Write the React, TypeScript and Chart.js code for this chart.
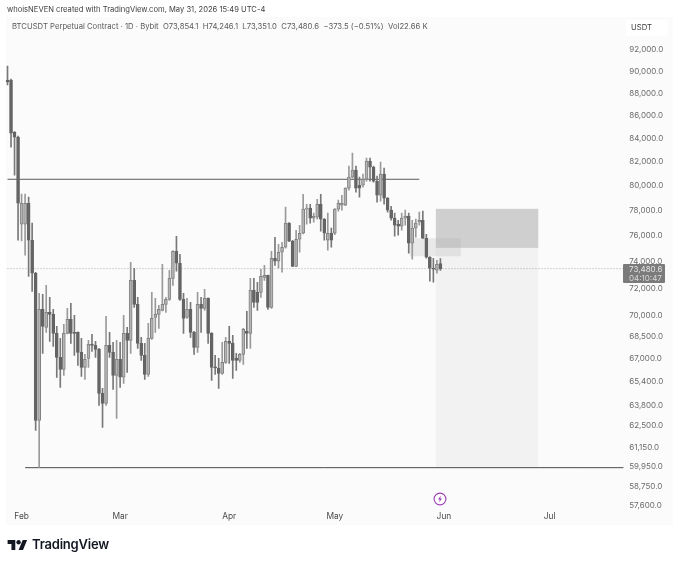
import React, { useEffect, useRef } from "react";
import { Chart, registerables } from "chart.js";

Chart.register(...registerables);

const FONT = 'Inter, "Noto Sans", sans-serif';

const opens = [
  89200,89200,84550,84120,76910,76910,78590,75656,73130,62860,
  70470,69175,70250,70105,68750,67070,66250,68750,69745,68820,
  68820,67416,66384,67000,67975,67905,67625,64630,63970,67905,
  67416,65840,66933,65720,68750,68255,72600,70830,68045,67210,
  65910,68395,69890,70105,70396,70830,71197,72750,74800,73885,
  71197,69890,70470,68820,67765,70830,70540,71270,68750,66384,
  66320,65975,66727,68185,68045,67000,66865,67280,68890,68750,
  71860,71710,71710,72825,72975,70615,74265,74040,74730,75110,
  77000,75580,73650,75735,76200,78110,78190,77390,77470,78510,
  77310,75656,76200,76200,78110,78430,78430,79815,80725,81310,
  80060,80060,80560,82065,81560,80390,79240,80975,79000,78030,
  77390,76915,76755,77390,77550,75425,76600,77070,77230,75810,
  74345,73505,73355,73854.1,
];
const highs = [
  90500,89300,84600,84200,79324,79324,79080,76993,73200,71638,
  71565,72230,71345,70470,69245,68395,69390,70540,70905,70035,
  68850,68395,67280,68255,68680,68185,67700,64965,69960,68820,
  68115,68255,68115,70035,69175,73960,73505,71345,68465,68045,
  69460,71710,71270,70760,73810,71345,73355,74850,75965,74575,
  71640,71270,70975,68900,71710,71345,71935,71300,68800,67210,
  67000,68115,68465,69245,68605,67350,67350,69100,70325,72750,
  72750,72455,73430,73730,73000,74805,75890,75345,75500,78270,
  77050,75650,76440,76830,79320,78510,78510,77790,78915,79320,
  77350,77790,76600,78150,78836,79240,79850,81640,82745,81640,
  80725,80975,82320,82320,81640,80810,81980,81475,79050,78350,
  77790,77230,77790,78030,77790,77230,77310,77870,77950,76125,
  74400,74265,74115,74246.1,
];
const lows = [
  88750,83257,80890,75660,75600,74496,72900,71786,62215,59900,
  67349,68820,68185,67835,65700,65030,65840,68700,68045,67210,
  66520,65770,65570,66384,67486,67070,63835,62410,63835,67070,
  64895,62990,65030,65300,66040,67350,70615,67695,66865,65570,
  65770,68325,68820,69105,70360,70250,71124,72230,73280,71124,
  68750,69820,68465,67280,67416,68820,70396,68045,65500,65910,
  64965,65910,66660,66660,65635,66180,66727,66590,67695,67695,
  70615,70396,71345,72600,70470,70540,73730,73505,73205,75035,
  75550,73620,73620,74730,76150,76910,77000,77070,77310,76360,
  75656,74880,75110,76100,77950,78030,78400,79650,80640,79490,
  79080,79895,80390,80390,80310,78670,78755,78510,77870,77230,
  75970,76050,76440,76835,74650,74190,75890,76835,75780,74265,
  72530,72455,73130,73351.0,
];
const closes = [
  89020,84466,84120,78590,78590,78590,75656,73130,62860,70470,
  69245,70250,70105,68750,67070,66250,68750,69745,68750,68750,
  67416,66384,66933,67975,67905,67625,64630,63970,67905,67416,
  65840,66933,65720,68750,68255,72600,70830,68045,67210,65910,
  68395,69820,70105,70470,70830,71197,72750,74800,73885,71197,
  69820,70470,68820,67765,70830,70540,71270,68750,66384,66350,
  65975,66727,68185,68045,66865,66865,67280,69030,68750,71860,
  70975,70975,72900,72975,70615,74265,74040,74730,75110,77000,
  75580,73650,75735,76200,78110,78190,77390,77550,78510,77310,
  76200,76200,75656,78110,78590,78590,79815,80725,81310,79815,
  79815,80560,82065,81560,80390,79240,80975,79000,78030,77390,
  76835,76755,77390,77550,75425,76600,77000,77230,75810,74345,
  73505,73430,73810,73480.6,
];

const priceTicks = [
  92000, 90000, 88000, 86000, 84000, 82000, 80000, 78000, 76000, 74000, 72000,
  70000, 68500, 67000, 65400, 63800, 62500, 61150, 59950, 58750, 57600,
];
const monthLabels: Record<string, string> = {
  "2026-02-01": "Feb",
  "2026-03-01": "Mar",
  "2026-04-01": "Apr",
  "2026-05-01": "May",
  "2026-06-01": "Jun",
  "2026-07-01": "Jul",
};

const FIRST_DAY = Date.UTC(2026, 0, 28);
const DAY_COUNT = 176;
const days = Array.from({ length: DAY_COUNT }, (_, i) =>
  new Date(FIRST_DAY + i * 86400000).toISOString().slice(0, 10)
);

const resistanceLevel = 80550;
const supportLevel = 59880;
const lastPrice = 73480.6;

// position tool: [first day, last day, upper price, lower price, colour]
const zones: [number, number, number, number, string][] = [
  [121.7, 150.8, 78140, 75060, "#cfcfcf"],
  [121.7, 150.8, 75060, 59880, "#f2f2f2"],
  [114.3, 128.8, 75810, 74420, "rgba(170,170,170,0.24)"],
];

const zonesPlugin = {
  id: "zones",
  beforeDatasetsDraw(chart: any) {
    const { ctx, scales } = chart;
    ctx.save();
    for (const [a, b, top, bottom, colour] of zones) {
      const x0 = scales.x.getPixelForValue(a);
      const x1 = scales.x.getPixelForValue(b);
      const y0 = scales.y.getPixelForValue(top);
      const y1 = scales.y.getPixelForValue(bottom);
      ctx.fillStyle = colour;
      ctx.fillRect(x0, y0, x1 - x0, y1 - y0);
    }
    ctx.restore();
  },
};

const UP_FILL = "#b4b4b4";
const UP_EDGE = "#828282";
const DOWN_FILL = "#646464";
const isUp = closes.map((c, i) => c >= opens[i]);

const priceText = (v: number) =>
  Number(v).toLocaleString("en-US", { minimumFractionDigits: 1, maximumFractionDigits: 1 });

const textStyle = (left: number, top: number, size: number, color: string): React.CSSProperties => ({
  position: "absolute",
  left,
  top,
  fontFamily: FONT,
  fontSize: size,
  lineHeight: "12px",
  color,
  whiteSpace: "pre",
});

export default function App() {
  const ref = useRef<HTMLCanvasElement>(null);

  useEffect(() => {
    const chart = new Chart(ref.current!, {
      type: "bar",
      data: {
        labels: days,
        datasets: [
          {
            label: "Body",
            data: opens.map((o, i) => [o, closes[i]]),
            backgroundColor: isUp.map((u) => (u ? UP_FILL : DOWN_FILL)),
            borderColor: isUp.map((u) => (u ? UP_EDGE : DOWN_FILL)),
            borderWidth: 1,
            borderSkipped: false,
            barThickness: 3,
            minBarLength: 1,
            grouped: false,
            order: 0,
          },
          {
            label: "Wick",
            data: lows.map((l, i) => [l, highs[i]]),
            backgroundColor: isUp.map((u) => (u ? "#9a9a9a" : "#787878")),
            barThickness: 1,
            grouped: false,
            order: 1,
          },
          {
            type: "line",
            label: "Resistance",
            data: [
              { x: days[0], y: resistanceLevel },
              { x: days[117], y: resistanceLevel },
            ],
            borderColor: "#5a5a5a",
            borderWidth: 1,
            pointRadius: 0,
            order: 2,
          },
          {
            type: "line",
            label: "Support",
            data: [
              { x: days[5], y: supportLevel },
              { x: days[DAY_COUNT - 1], y: supportLevel },
            ],
            borderColor: "#4a4a4a",
            borderWidth: 1,
            pointRadius: 0,
            order: 2,
          },
          {
            type: "line",
            label: "Last price",
            data: [
              { x: days[0], y: lastPrice },
              { x: days[DAY_COUNT - 1], y: lastPrice },
            ],
            borderColor: "#a8a8a8",
            borderWidth: 1,
            borderDash: [1, 2],
            pointRadius: 0,
            order: 3,
          },
        ] as any,
      },
      options: {
        responsive: false,
        animation: false,
        devicePixelRatio: 1,
        layout: { padding: { left: 5.74, top: 37, right: 4.8, bottom: 33 } },
        plugins: { legend: { display: false }, title: { display: false }, tooltip: { enabled: false } },
        scales: {
          x: {
            type: "category",
            offset: true,
            grid: { display: false, drawTicks: false },
            border: { display: false },
            afterFit: (s: any) => { s.height = 20; },
            ticks: {
              autoSkip: false,
              maxRotation: 0,
              minRotation: 0,
              padding: 1.5,
              color: "#4a4a4a",
              font: { family: FONT, size: 8.4 },
              callback(_v: any, i: number) {
                return monthLabels[days[i]] ?? null;
              },
            },
          },
          y: {
            type: "logarithmic",
            position: "right",
            min: 57330,
            max: 93239,
            grid: { display: false, drawTicks: false },
            border: { display: false },
            afterFit: (s: any) => { s.width = 50; },
            afterBuildTicks: (s: any) => { s.ticks = priceTicks.map((value) => ({ value })); },
            ticks: {
              autoSkip: false,
              padding: 4,
              color: "#6a6a6a",
              font: { family: FONT, size: 8 },
              callback: (v: any) => priceText(v),
            },
            afterTickToLabelConversion: (s: any) => {
              s.ticks.forEach((t: any) => { t.label = priceText(t.value); });
            },
          },
        },
      } as any,
      plugins: [zonesPlugin],
    });
    return () => chart.destroy();
  }, []);

  return (
    <div style={{ position: "absolute", left: 0, top: 0, width: 680, height: 563, background: "#fff", overflow: "hidden", filter: "blur(0.5px)" }}>
      <div style={{ position: "absolute", left: 6, top: 17, width: 667, height: 508, background: "#fbfbfb" }} />
      <div style={{ position: "absolute", left: 626, top: 20, width: 42, height: 16, background: "#ffffff", borderRadius: 3 }} />
      <canvas ref={ref} width={680} height={563} style={{ position: "absolute", left: 0, top: 0 }} />

      <div style={textStyle(7, 4, 7.6, "#3f3f3f")}>whoisNEVEN created with TradingView.com, May 31, 2026 15:49 UTC-4</div>
      <div style={textStyle(12, 21, 7.7, "#5a5a5a")}>
        {"BTCUSDT Perpetual Contract · 1D · Bybit  O73,854.1  H74,246.1  L73,351.0  C73,480.6  −373.5 (−0.51%)  Vol22.66 K"}
      </div>
      <div style={textStyle(631, 22, 7.7, "#3a3a3a")}>USDT</div>

      <div style={{ position: "absolute", left: 623, top: 264, width: 42, height: 19, background: "#7b7b7b", borderRadius: 1 }} />
      <div style={textStyle(629, 263, 8, "#e4e4e4")}>73,480.6</div>
      <div style={textStyle(629, 271.5, 8, "#d8d8d8")}>04:10:47</div>

      <svg style={{ position: "absolute", left: 433, top: 492 }} width={14} height={14} viewBox="0 0 14 14">
        <circle cx={7} cy={7} r={5.9} fill="#ffffff" stroke="#9c3fb5" strokeWidth={1.1} />
        <path d="M8 3.4 L5 7.6 H6.8 L6 10.6 L9 6.4 H7.2 Z" fill="#9c3fb5" />
      </svg>

      <svg style={{ position: "absolute", left: 7, top: 539 }} width={21} height={11} viewBox="0 2 36 20">
        <path d="M14 22H7V11H0V4h14v18zM28 22h-8l7.5-18h8L28 22z" fill="#131722" />
        <circle cx={20} cy={8} r={4} fill="#131722" />
      </svg>
      <div style={{ ...textStyle(32, 538, 13, "#131722"), fontWeight: 600, letterSpacing: -0.2 }}>TradingView</div>
    </div>
  );
}
